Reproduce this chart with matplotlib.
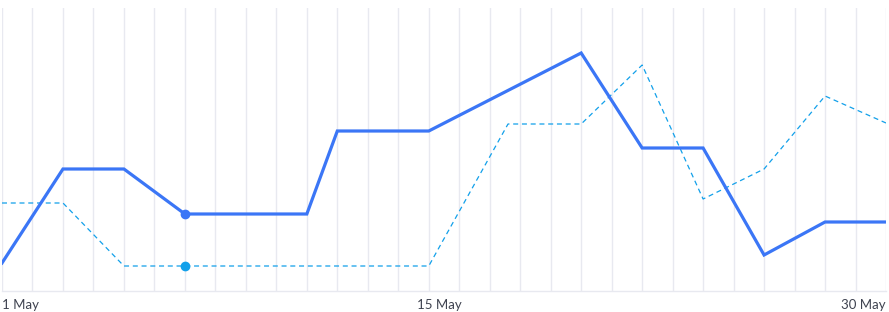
import matplotlib
matplotlib.use("Agg")
import matplotlib.pyplot as plt
import matplotlib.transforms as mtransforms

# Data (days of May)
days = list(range(1, 31))
current = [28, 75, 122, 122, 122, 99.5, 77, 77, 77, 77, 77, 160, 160, 160, 160,
           175.6, 191.2, 206.8, 222.4, 238, 190.5, 143, 143, 143, 89.5, 36,
           52.5, 69, 69, 69]
prev_days = [1, 3, 5, 15, 17.6, 20, 22, 24, 26, 28, 30]
previous = [88, 88, 25, 25, 167, 167, 226, 92, 122, 195, 168]
highlight_day = 7
tick_days = [1, 15, 30]
tick_labels = ["1 May", "15 May", "30 May"]

fig = plt.figure(figsize=(8.89, 3.12), dpi=100)
W, H = 889, 312
ax = fig.add_axes([2 / W, (H - 291) / H, 884 / W, 283 / H])
ax.set_xlim(1, 30)
ax.set_ylim(0, 283)

# vertical grid lines for each day
for d in days:
    ax.axvline(d, color="#e8e9f0", lw=1.0, zorder=0)

ax.plot(prev_days, previous, color="#12a0ea", lw=0.9, ls=(0, (4, 3)), zorder=2)
ax.plot(days, current, color="#3b76f6", lw=2.3, solid_joinstyle="miter", zorder=3)

# hover markers
import numpy as np
ax.plot([highlight_day], [current[days.index(highlight_day)]], "o", color="#3b76f6",
        ms=6, zorder=4)
ax.plot([highlight_day], [np.interp(highlight_day, prev_days, previous)], "o",
        color="#12a0ea", ms=6, zorder=4)

for s in ["top", "left", "right"]:
    ax.spines[s].set_visible(False)
ax.spines["bottom"].set_color("#e8e9f0")
ax.spines["bottom"].set_linewidth(1.0)
ax.set_yticks([])
ax.set_xticks(tick_days)
ax.set_xticklabels(tick_labels, fontsize=9.5, color="#3f4350", fontfamily="Lato")
ax.tick_params(axis="x", length=0, pad=6)
labs = ax.get_xticklabels()
labs[0].set_ha("left")
labs[2].set_ha("right")
labs[1].set_transform(labs[1].get_transform() +
                      mtransforms.ScaledTranslation(11 / 100, 0, fig.dpi_scale_trans))

fig.savefig("out.png", dpi=100)
